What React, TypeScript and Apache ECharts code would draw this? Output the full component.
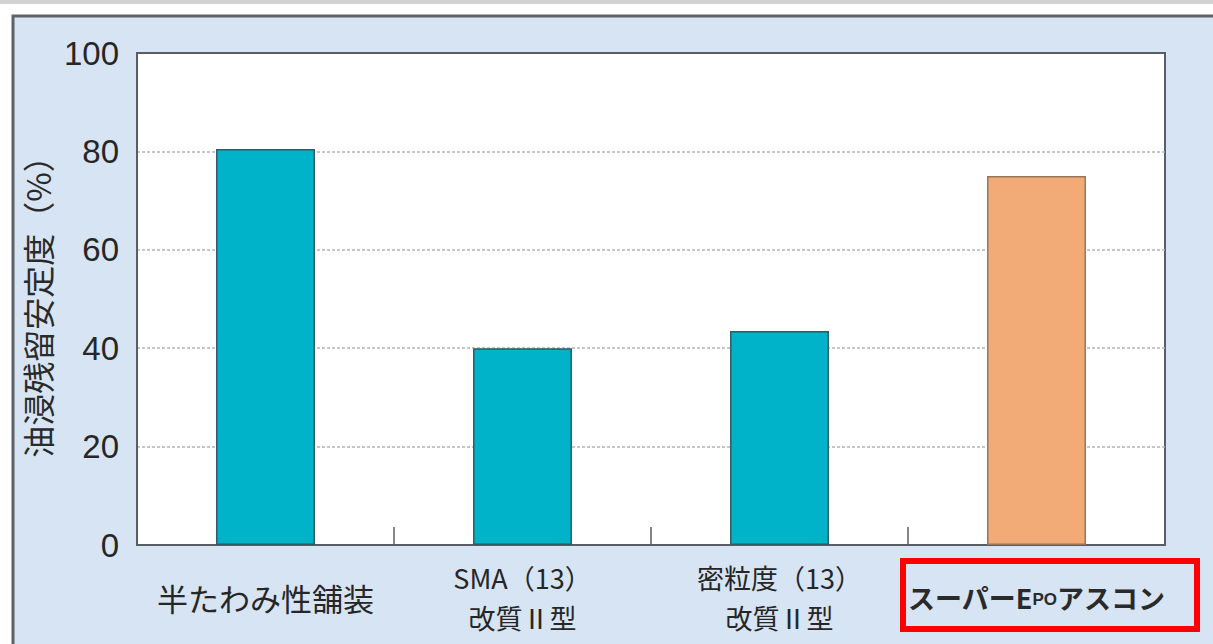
import React, { useEffect, useRef } from "react";
import * as echarts from "echarts";

const categories = ["半たわみ性舗装", "SMA（13）\n改質Ⅱ型", "密粒度（13）\n改質Ⅱ型", "スーパーEPOアスコン"];
const values = [80.5, 40, 43.5, 75];
const barColors = ["#00b3c9", "#00b3c9", "#00b3c9", "#f2aa76"];
const yTicks = { min: 0, max: 100, interval: 20 };
const yName = "油浸残留安定度（%）";

export default function App() {
  const ref = useRef<HTMLDivElement>(null);
  useEffect(() => {
    document.body.style.margin = "0";
    const chart = echarts.init(ref.current!, null, { renderer: "svg" });
    const jp = "'Noto Sans CJK JP', 'Liberation Sans', sans-serif";
    chart.setOption({
      animation: false,
      backgroundColor: "#ffffff",
      graphic: [
        { type: "rect", shape: { x: 0, y: 0, width: 1213, height: 4 }, style: { fill: "#d2d2d2" }, z: -10 },
        { type: "rect", shape: { x: 13, y: 16, width: 1220, height: 640 }, style: { fill: "#d6e4f3", stroke: "#5f6368", lineWidth: 3 }, z: -10 },
        { type: "rect", shape: { x: 903, y: 561, width: 294, height: 68 }, style: { fill: "none", stroke: "#ff0000", lineWidth: 6 }, z: 10 },
      ],
      grid: {
        left: 137, right: 48, top: 53, bottom: 99,
        show: true, backgroundColor: "#ffffff", borderColor: "#5a5e64", borderWidth: 2,
      },
      xAxis: {
        type: "category",
        data: categories,
        axisLine: { show: true, lineStyle: { color: "#5a5e64", width: 2 } },
        axisTick: { show: true, inside: true, length: 18, interval: 0, lineStyle: { color: "#5a5e64", width: 1.5 } },
        axisLabel: {
          interval: 0,
          margin: 52,
          verticalAlign: "middle",
          color: "#262626",
          fontSize: 31,
          fontFamily: jp,
          formatter: (v: string) => {
            if (v === "スーパーEPOアスコン") return "{a|スーパーE}{b|PO}{a|アスコン}";
            if (v.includes("\n")) return v.split("\n").map((s) => `{m|${s}}`).join("\n");
            return `{s|${v}}`;
          },
          rich: {
            s: { fontSize: 31, color: "#262626", fontFamily: jp },
            m: { fontSize: 27, lineHeight: 40, color: "#262626", fontFamily: jp },
            a: { fontSize: 27, fontWeight: "bold", color: "#2a2a2a", fontFamily: jp, verticalAlign: "bottom" },
            b: { fontSize: 17, fontWeight: "bold", color: "#2a2a2a", fontFamily: "'Liberation Sans', sans-serif", verticalAlign: "bottom", padding: [0, 0, 3, 0] },
          },
        },
      },
      yAxis: {
        type: "value",
        min: yTicks.min, max: yTicks.max, interval: yTicks.interval,
        name: yName,
        nameLocation: "middle",
        nameGap: 74,
        nameRotate: 90,
        nameTextStyle: { fontSize: 32, color: "#2a2a2a", fontFamily: jp },
        axisLine: { show: true, lineStyle: { color: "#5a5e64", width: 2 } },
        axisTick: { show: false },
        axisLabel: { margin: 18, fontSize: 33, color: "#262626", fontFamily: "'Liberation Sans', Arial, sans-serif" },
        splitLine: {
          show: true,
          lineStyle: { color: "#b4b4b4", type: [3, 2], width: 1.5 },
          showMinLine: false,
          showMaxLine: false,
        },
      },
      series: [
        {
          type: "bar",
          barWidth: "38.5%",
          data: values.map((v, i) => ({
            value: v,
            itemStyle: { color: barColors[i], borderColor: i === 3 ? "#9a7658" : "#2f5b64", borderWidth: 1.5 },
          })),
        },
      ],
    });
    return () => chart.dispose();
  }, []);
  return <div ref={ref} style={{ width: 1213, height: 644 }} />;
}
